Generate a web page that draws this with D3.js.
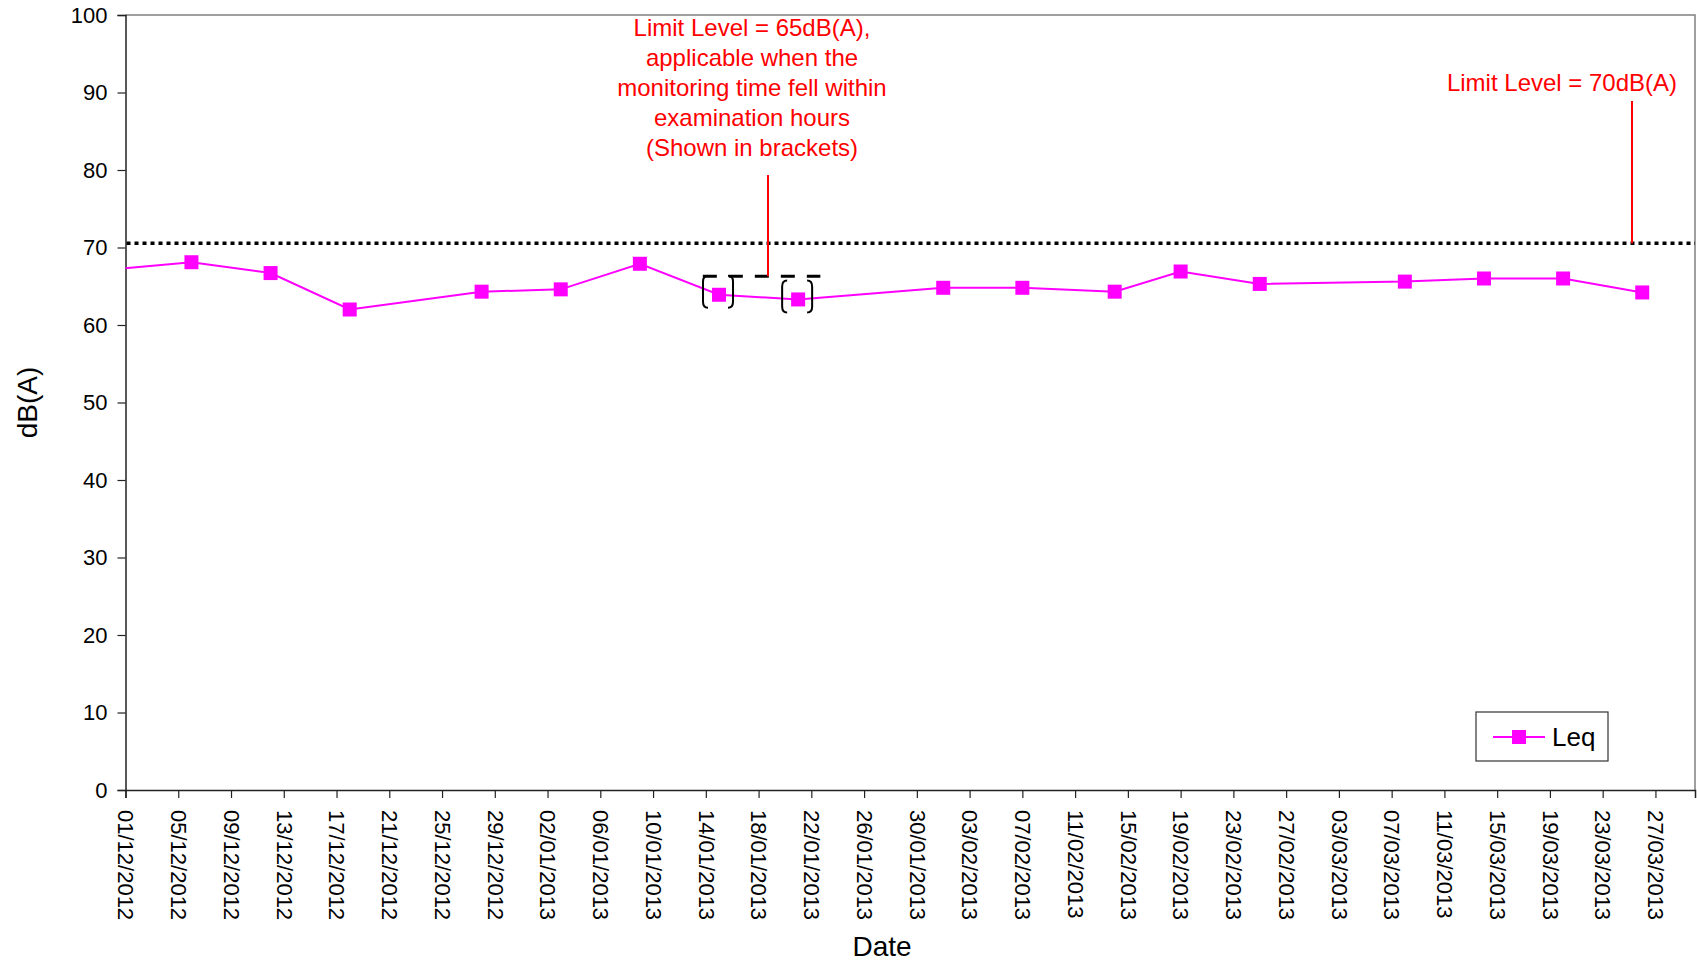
<!DOCTYPE html>
<html>
<head>
<meta charset="utf-8">
<script src="https://cdn.jsdelivr.net/npm/d3@7"></script>
<style>
  body { margin: 0; background: #fff; }
  svg { display: block; font-family: "Liberation Sans", Arial, sans-serif; }
</style>
</head>
<body>
<svg id="chart" width="1697" height="964"></svg>
<script>
// Measurement dates (dd/mm/yyyy); the first one lies before the axis start
const dates = ["29/11/2012", "06/12/2012", "12/12/2012", "18/12/2012", "28/12/2012",
  "03/01/2013", "09/01/2013", "15/01/2013", "21/01/2013", "01/02/2013", "07/02/2013",
  "14/02/2013", "19/02/2013", "25/02/2013", "08/03/2013", "14/03/2013", "20/03/2013",
  "26/03/2013"];

// Leq values, dB(A)
const leq = [67.0, 68.1, 66.7, 62.0, 64.3, 64.6, 67.9, 63.9, 63.3, 64.8, 64.8,
  64.3, 66.9, 65.3, 65.6, 66.0, 66.0, 64.2];

// Readings taken in examination hours (shown in brackets)
const bracketed = ["15/01/2013", "21/01/2013"];

// X tick labels, every 4 days
const tickLabels = ["01/12/2012", "05/12/2012", "09/12/2012", "13/12/2012", "17/12/2012",
  "21/12/2012", "25/12/2012", "29/12/2012", "02/01/2013", "06/01/2013", "10/01/2013",
  "14/01/2013", "18/01/2013", "22/01/2013", "26/01/2013", "30/01/2013", "03/02/2013",
  "07/02/2013", "11/02/2013", "15/02/2013", "19/02/2013", "23/02/2013", "27/02/2013",
  "03/03/2013", "07/03/2013", "11/03/2013", "15/03/2013", "19/03/2013", "23/03/2013",
  "27/03/2013"];

const yTicks = [0, 10, 20, 30, 40, 50, 60, 70, 80, 90, 100];

// Limit lines
const limit70Line = 70.55;   // dotted line as drawn
const limit65Line = 66.3;    // dashed line as drawn
const limit65Span = ["14/01/2013", "22/01/2013"];

const parseDate = d3.utcParse("%d/%m/%Y");

const margin = { top: 15, right: 2, bottom: 174, left: 125.5 };
const width = 1697, height = 964;

const svg = d3.select("#chart");

// Scales
const x = d3.scaleUtc()
  .domain([parseDate("01/12/2012"), parseDate("30/03/2013")])
  .range([margin.left, width - margin.right]);

const y = d3.scaleLinear()
  .domain([0, 100])
  .range([height - margin.bottom, margin.top]);

// Plot frame: top and right in grey
svg.append("path")
  .attr("d", `M${x.range()[0]},${y(100)}H${x.range()[1]}V${y(0)}`)
  .attr("fill", "none")
  .attr("stroke", "#808080")
  .attr("stroke-width", 1.5);

// Y Axis
const yAxis = svg.append("g")
  .attr("transform", `translate(${margin.left},0)`)
  .call(d3.axisLeft(y).tickValues(yTicks).tickSize(8).tickPadding(10));
yAxis.select(".domain").attr("stroke", "#222").attr("stroke-width", 1.5);
yAxis.selectAll(".tick line").attr("stroke", "#222").attr("stroke-width", 1.2);
yAxis.selectAll("text").attr("font-size", 22).attr("fill", "#000")
  .attr("font-family", "Liberation Sans, Arial, sans-serif");

// X Axis
const xAxis = svg.append("g")
  .attr("transform", `translate(0,${y(0)})`)
  .call(d3.axisBottom(x)
    .tickValues(tickLabels.map(parseDate))
    .tickFormat(d3.utcFormat("%d/%m/%Y"))
    .tickSize(8));
xAxis.select(".domain").attr("stroke", "#222").attr("stroke-width", 1.5);
xAxis.selectAll(".tick line").attr("stroke", "#222").attr("stroke-width", 1.2);
xAxis.selectAll("text")
  .attr("font-size", 22)
  .attr("fill", "#000")
  .attr("font-family", "Liberation Sans, Arial, sans-serif")
  .attr("text-anchor", "start")
  .attr("transform", "translate(0,20) rotate(90)")
  .attr("x", 0)
  .attr("y", 0)
  .attr("dy", "0.35em");

// Axis titles
svg.append("text")
  .attr("transform", `translate(37,${(y(0) + y(100)) / 2}) rotate(-90)`)
  .attr("text-anchor", "middle")
  .attr("font-size", 28)
  .text("dB(A)");

svg.append("text")
  .attr("x", 882)
  .attr("y", 956)
  .attr("text-anchor", "middle")
  .attr("font-size", 28)
  .text("Date");

// Clip for the series
svg.append("clipPath").attr("id", "plotclip")
  .append("rect")
  .attr("x", x.range()[0]).attr("y", y(100))
  .attr("width", x.range()[1] - x.range()[0]).attr("height", y(0) - y(100));

// 70 dB(A) limit, dotted
svg.append("line")
  .attr("x1", x.range()[0] + 1).attr("x2", x.range()[1])
  .attr("y1", y(limit70Line)).attr("y2", y(limit70Line))
  .attr("stroke", "#000").attr("stroke-width", 3.5)
  .attr("stroke-dasharray", "4,4");

// 65 dB(A) limit, dashed over the examination period
svg.append("line")
  .attr("x1", x(parseDate(limit65Span[0])) - 3)
  .attr("x2", x(parseDate(limit65Span[1])) + 9)
  .attr("y1", y(limit65Line)).attr("y2", y(limit65Line))
  .attr("stroke", "#000").attr("stroke-width", 3)
  .attr("stroke-dasharray", "14,12");

// Series
const points = dates.map((d, i) => ({ date: parseDate(d), value: leq[i], key: d }));

const line = d3.line()
  .x(d => x(d.date))
  .y(d => y(d.value));

const series = svg.append("g").attr("clip-path", "url(#plotclip)");

series.append("path")
  .datum(points)
  .attr("fill", "none")
  .attr("stroke", "#FF00FF")
  .attr("stroke-width", 2)
  .attr("d", line);

series.selectAll("rect")
  .data(points)
  .enter().append("rect")
  .attr("x", d => x(d.date) - 7)
  .attr("y", d => y(d.value) - 7)
  .attr("width", 14)
  .attr("height", 14)
  .attr("fill", "#FF00FF");

// Brackets around readings in examination hours
const bracketPts = points.filter(p => bracketed.includes(p.key));
const brk = svg.append("g").attr("fill", "none").attr("stroke", "#000").attr("stroke-width", 2);
bracketPts.forEach(p => {
  const cx = x(p.date), cy = y(p.value);
  const top = cy - 19, bot = cy + 13;
  const l = cx - 16, r = cx + 14;
  brk.append("path")
    .attr("d", `M${l + 5},${top}Q${l},${top} ${l},${top + 6}L${l},${bot - 6}Q${l},${bot} ${l + 5},${bot}`);
  brk.append("path")
    .attr("d", `M${r - 5},${top}Q${r},${top} ${r},${top + 6}L${r},${bot - 6}Q${r},${bot} ${r - 5},${bot}`);
});

// Annotations
const note65 = ["Limit Level = 65dB(A),", "applicable when the",
  "monitoring time fell within", "examination hours", "(Shown in brackets)"];

svg.append("text")
  .attr("x", 752)
  .attr("y", 36)
  .attr("text-anchor", "middle")
  .attr("font-size", 24)
  .attr("fill", "#FF0000")
  .selectAll("tspan")
  .data(note65)
  .enter().append("tspan")
  .attr("x", 752)
  .attr("dy", (d, i) => i === 0 ? 0 : 30)
  .text(d => d);

svg.append("line")
  .attr("x1", 768).attr("x2", 768)
  .attr("y1", 175).attr("y2", y(limit65Line))
  .attr("stroke", "#FF0000").attr("stroke-width", 2);

svg.append("text")
  .attr("x", 1562)
  .attr("y", 91)
  .attr("text-anchor", "middle")
  .attr("font-size", 24)
  .attr("fill", "#FF0000")
  .text("Limit Level = 70dB(A)");

svg.append("line")
  .attr("x1", 1632).attr("x2", 1632)
  .attr("y1", 101).attr("y2", y(limit70Line))
  .attr("stroke", "#FF0000").attr("stroke-width", 2);

// Legend
const legend = svg.append("g").attr("transform", "translate(1476,712)");
legend.append("rect")
  .attr("width", 132).attr("height", 49)
  .attr("fill", "#fff").attr("stroke", "#333").attr("stroke-width", 1.2);
legend.append("line")
  .attr("x1", 17).attr("x2", 69).attr("y1", 25).attr("y2", 25)
  .attr("stroke", "#FF00FF").attr("stroke-width", 2);
legend.append("rect")
  .attr("x", 36).attr("y", 18).attr("width", 14).attr("height", 14)
  .attr("fill", "#FF00FF");
legend.append("text")
  .attr("x", 76).attr("y", 34)
  .attr("font-size", 26)
  .text("Leq");
</script>
</body>
</html>
